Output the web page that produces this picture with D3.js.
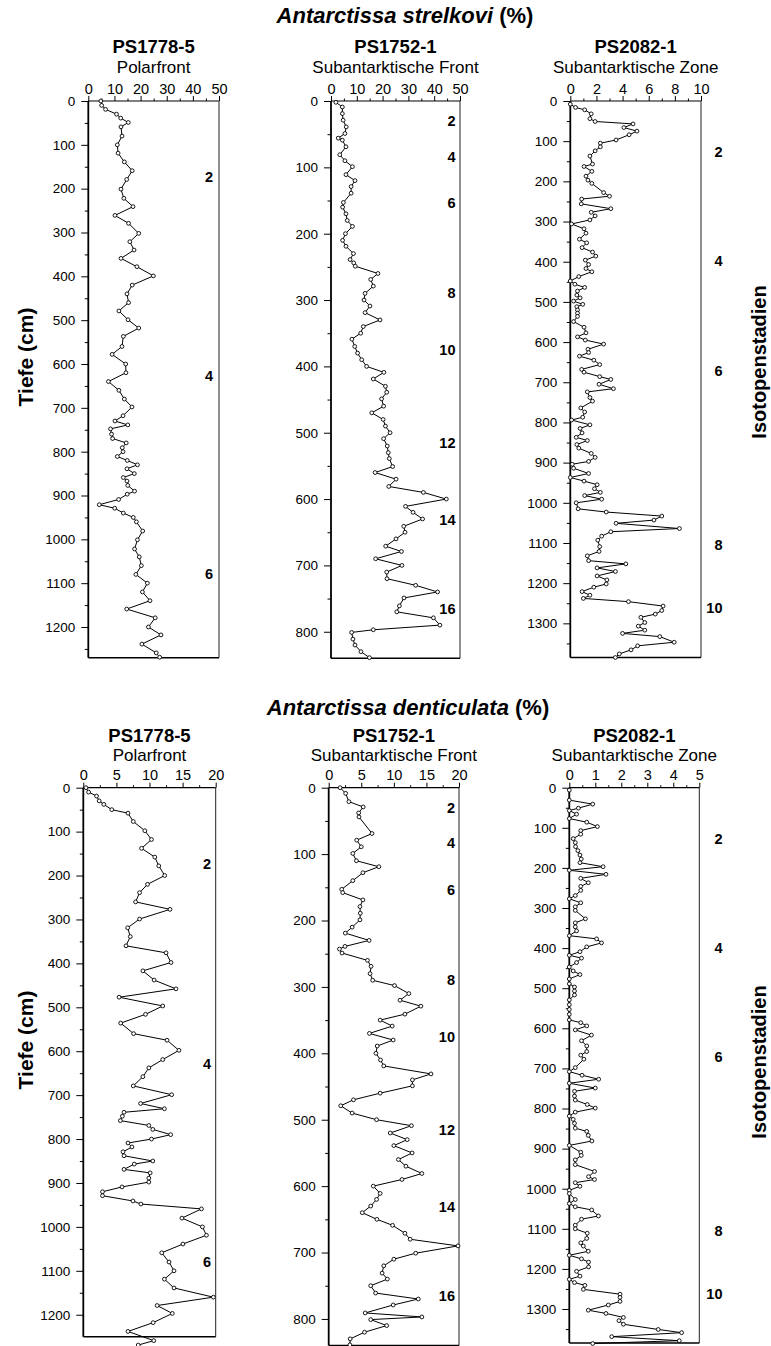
<!DOCTYPE html>
<html>
<head>
<meta charset="utf-8">
<script src="https://cdn.jsdelivr.net/npm/d3@7"></script>
<style>
  body { margin: 0; background: #fff; }
  svg { display: block; }
  text { font-family: "Liberation Sans", Arial, Helvetica, sans-serif; fill: #000; }
</style>
</head>
<body>
<svg id="chart" width="771" height="1346"></svg>
<script>
// ---- Data: [depth in cm, abundance in %] per core ----
const strelkoviPS1778 = [[0,4.8],[10,5.1],[19,6.6],[30,10.8],[39,12.4],[49,15.3],[59,12.5],[80,12.9],[100,11.1],[119,11.4],[139,13.8],[159,16.8],[179,14.7],[201,12.5],[222,13.6],[241,17.1],[261,10.2],[279,15.4],[302,19.3],[321,15.9],[340,17.5],[359,12.5],[378,18.6],[399,24.9],[420,16.8],[440,14.8],[460,15.4],[479,11.7],[499,15.2],[518,19.3],[537,13.4],[560,12.9],[578,9.1],[600,14.3],[620,14.4],[640,7.7],[660,11.7],[680,13.8],[698,16.7],[718,13.3],[730,10.2],[739,15.1],[748,8.5],[760,8.9],[770,9.3],[780,14.5],[791,13.0],[800,13.3],[811,11.1],[820,14.9],[830,18.8],[839,14.8],[850,17.6],[859,13.4],[867,14.8],[877,15.1],[890,17.7],[897,14.9],[909,11.6],[921,4.2],[929,10.1],[940,13.4],[950,17.2],[960,18.4],[981,20.8],[1001,18.8],[1022,17.7],[1040,19.5],[1060,20.3],[1080,18.2],[1100,22.6],[1120,20.7],[1140,23.6],[1159,14.7],[1179,25.6],[1200,23.0],[1218,27.8],[1239,20.5],[1259,26.0],[1269,27.3]];

const strelkoviPS1752 = [[2,1.9],[9,4.4],[19,4.4],[29,4.7],[39,5.9],[49,5.4],[56,2.8],[59,4.4],[69,5.8],[81,3.4],[90,5.4],[99,8.3],[111,5.8],[120,9.3],[129,7.8],[139,7.8],[153,4.8],[160,4.5],[170,5.8],[180,6.3],[189,8.3],[200,5.6],[210,4.5],[219,5.8],[230,8.7],[239,7.4],[244,8.8],[249,9.4],[260,18.2],[269,15.4],[279,16.4],[290,13.2],[300,12.8],[309,15.1],[319,13.2],[330,19.0],[340,12.5],[350,11.5],[359,8.1],[370,9.2],[380,10.3],[390,11.9],[400,13.8],[409,20.5],[419,16.4],[430,21.1],[439,21.6],[449,19.6],[460,20.4],[470,15.8],[480,20.2],[490,21.1],[500,22.9],[509,20.4],[520,21.8],[530,22.2],[539,22.6],[551,23.9],[560,17.1],[570,25.2],[581,22.4],[590,35.8],[600,44.7],[611,28.9],[620,31.8],[630,35.5],[641,28.2],[650,28.7],[660,25.2],[671,21.2],[679,27.3],[690,17.3],[700,27.5],[710,21.6],[720,21.7],[730,32.8],[740,41.3],[749,28.3],[761,26.5],[770,25.5],[779,39.7],[790,42.2],[797,16.4],[801,8.0],[811,8.5],[820,9.3],[830,11.6],[839,14.9]];

const strelkoviPS2082 = [[8,0],[16,0.4],[22,1.1],[32,1.6],[44,1.5],[51,1.9],[57,4.8],[66,4.1],[75,5.1],[84,4.5],[97,3.5],[105,2.3],[114,2.3],[124,1.9],[137,1.5],[157,1.7],[163,1.05],[175,1.65],[187,1.2],[197,1.35],[205,1.65],[228,2.55],[237,3.0],[244,0.87],[256,0.84],[268,3.1],[277,1.6],[286,1.9],[296,1.5],[306,0.1],[318,1.05],[329,1.2],[344,0.7],[353,1.25],[365,0.9],[376,1.7],[386,1.95],[396,1.15],[407,1.4],[417,1.2],[425,1.65],[437,0.65],[448,0],[456,0.35],[464,1.1],[473,0.55],[483,0.5],[490,0.75],[498,0.25],[506,0.95],[512,0.5],[520,0.55],[528,0.55],[536,0.55],[549,0.25],[563,1.05],[577,1.2],[587,0.55],[595,1.15],[605,2.55],[618,1.35],[626,1.4],[635,0.7],[645,1.8],[656,2.25],[668,0.87],[675,1.05],[686,2.25],[693,3.1],[705,2.2],[716,3.3],[724,1.3],[738,1.5],[747,1.7],[764,0.8],[774,1.1],[787,0.95],[794,0.1],[806,1.5],[815,0.75],[826,0.9],[837,0.45],[845,1.3],[855,0.5],[864,0.65],[877,1.6],[887,1.9],[897,1.4],[904,0.15],[914,0.25],[927,1.4],[937,0],[946,1.05],[955,2.05],[965,1.85],[974,2.3],[982,1.1],[991,2.4],[1000,0.45],[1015,0.6],[1023,2.75],[1033,7.0],[1043,6.4],[1051,3.5],[1064,8.35],[1072,3.1],[1083,2.4],[1093,2.1],[1109,2.25],[1121,2.2],[1132,1.3],[1144,1.4],[1152,4.25],[1162,2.05],[1171,3.45],[1182,2.05],[1192,2.8],[1202,2.75],[1210,1.8],[1221,0.9],[1230,1.5],[1238,1.0],[1246,4.45],[1257,7.1],[1268,7.0],[1277,6.5],[1285,5.4],[1298,5.7],[1307,5.2],[1317,5.7],[1325,4.0],[1333,6.85],[1347,7.95],[1356,5.15],[1366,4.65],[1376,3.75],[1385,3.45]];

const denticulataPS1778 = [[0,0.4],[10,0.8],[19,2.0],[30,2.4],[38,3.1],[50,4.3],[58,6.75],[77,7.55],[98,9.3],[118,10.3],[138,8.8],[158,10.8],[178,11.4],[200,12.3],[220,9.7],[239,8.5],[260,7.9],[277,13.1],[299,8.5],[319,6.7],[339,7.1],[360,6.45],[376,12.5],[398,13.25],[417,9.0],[438,10.7],[458,14.0],[477,5.4],[497,12.0],[516,9.4],[536,5.65],[560,7.6],[575,12.65],[598,14.45],[619,12.0],[638,9.9],[658,9.0],[679,7.55],[699,13.35],[719,8.65],[731,12.25],[739,6.15],[748,5.9],[758,5.6],[769,9.9],[778,10.5],[790,13.2],[800,10.3],[809,6.75],[818,7.35],[829,6.0],[838,6.15],[850,10.5],[857,7.7],[869,6.15],[877,10.1],[889,9.9],[898,9.9],[909,5.85],[920,2.9],[929,2.9],[941,7.5],[948,8.7],[959,17.85],[980,14.9],[1000,18.0],[1019,18.6],[1039,15.05],[1059,11.85],[1080,12.95],[1100,13.7],[1119,12.25],[1139,13.7],[1160,19.65],[1179,11.15],[1197,13.45],[1218,10.55],[1238,6.75],[1259,10.65],[1269,8.3]];

const denticulataPS1752 = [[0,1.75],[8.5,2.6],[21,3.1],[29,5.3],[38,4.6],[44,4.65],[69,6.65],[79,4.3],[89,5.0],[99,3.7],[110,4.25],[119,7.7],[128,5.25],[140,3.7],[153,2.0],[158,2.15],[169,5.25],[179,4.8],[189,4.85],[199,4.8],[210,3.6],[219,2.55],[230,6.2],[239,2.5],[243,1.65],[249,2.05],[260,5.95],[269,6.5],[280,6.35],[290,6.75],[298,10.1],[310,12.3],[320,10.95],[329,14.15],[341,11.7],[350,7.9],[359,9.75],[370,6.25],[380,9.9],[389,7.45],[400,7.25],[410,7.95],[419,8.45],[431,15.7],[440,12.85],[449,12.85],[460,7.9],[470,3.8],[479,1.85],[490,3.6],[500,7.35],[509,12.7],[520,9.45],[530,12.05],[539,10.0],[550,12.8],[560,10.7],[570,11.85],[581,14.3],[590,11.25],[600,6.85],[611,7.9],[620,7.35],[630,6.45],[640,5.15],[650,7.4],[659,9.8],[671,11.7],[680,12.5],[690,19.85],[701,13.35],[710,10.0],[720,8.45],[731,8.2],[740,9.0],[750,6.45],[761,7.2],[770,13.75],[779,9.9],[791,5.6],[797,14.3],[801,6.45],[810,8.9],[820,5.5],[830,3.3],[839,3.25]];

const denticulataPS2082 = [[6,0],[31,0],[41,0.9],[51,0.35],[57,0],[66,0.28],[77,0],[86,0.67],[97,1.08],[107,0.44],[116,0.44],[127,0.15],[137,0.23],[147,0.24],[157,0.33],[168,0.41],[178,0.46],[187,0.41],[197,1.3],[206,0],[216,1.41],[226,0.44],[237,0.73],[246,0.44],[256,0.44],[269,0.23],[277,0],[287,0.44],[297,0.23],[306,0.23],[327,0.62],[337,0.23],[347,0.23],[357,0.28],[369,0],[377,1.05],[387,1.24],[397,0.67],[409,0.41],[418,0],[425,0.47],[436,0.28],[447,0],[457,0.15],[466,0.41],[477,0],[489,0],[497,0.2],[507,0.2],[517,0.2],[529,0],[541,0],[553,0],[565,0],[579,0],[586,0.44],[594,0.67],[604,0.23],[617,0.85],[631,0.47],[644,0.67],[658,0.67],[667,0.44],[677,0.56],[698,0.23],[708,0],[717,0.49],[727,1.13],[737,0],[749,1.0],[757,0.2],[769,0.2],[779,0.23],[790,0.69],[799,1.0],[809,0.23],[819,0],[827,0.15],[837,0.2],[849,0.23],[857,0.67],[867,0.73],[881,0.87],[892,0],[909,0.44],[917,0.46],[928,0.23],[940,0.23],[957,0.97],[970,0.74],[977,0.97],[985,0.23],[994,0.41],[1004,0],[1012,0],[1027,0.23],[1037,0],[1045,0.23],[1053,0.86],[1068,1.12],[1076,0.47],[1091,0.23],[1100,0.23],[1111,0.69],[1124,0.67],[1135,0.44],[1143,0.54],[1156,0.73],[1166,0],[1175,0.47],[1183,0.74],[1195,0.74],[1206,0.28],[1218,0.41],[1226,0],[1234,0.2],[1241,0.6],[1251,0.54],[1263,1.95],[1271,1.95],[1281,1.95],[1290,1.5],[1303,0.73],[1311,1.41],[1321,2.08],[1329,1.91],[1338,2.08],[1351,3.42],[1359,4.32],[1369,1.63],[1379,4.23],[1386,0.9]];

// Isotope stage labels: [stage, depth in cm]
const stagesPS1778 = [[2,173],[4,628],[6,1079]];
const stagesPS1752 = [[2,30],[4,84],[6,154],[8,290],[10,376],[12,515],[14,632],[16,765]];
const stagesPS2082 = [[2,127],[4,399],[6,672],[8,1106],[10,1263]];

// Text
const speciesTitles = ["Antarctissa strelkovi", "Antarctissa denticulata"];
const coreNames = ["PS1778-5", "PS1752-1", "PS2082-1"];
const frontNames = ["Polarfront", "Subantarktische Front", "Subantarktische Zone"];
const yAxisTitle = "Tiefe (cm)";
const stageAxisTitle = "Isotopenstadien";

// ---- Layout ----
const rows = [
  { title: speciesTitles[0], titleY: 23, coreY: 53, frontY: 73, top: 101, titleX: 405, yLabelY: 357, stageLabelY: 362,
    panels: [
      { data: strelkoviPS1778, xMax: 50, xStep: 10, yMax: 1270, left: 88.3, right: 219, bottom: 657.7, stages: stagesPS1778, stageX: 213 },
      { data: strelkoviPS1752, xMax: 50, xStep: 10, yMax: 840, left: 331, right: 460, bottom: 658.3, stages: stagesPS1752, stageX: 455.5 },
      { data: strelkoviPS2082, xMax: 10, xStep: 2, yMax: 1385, left: 570.3, right: 701, bottom: 657.5, stages: stagesPS2082, stageX: 722.5 }
    ] },
  { title: speciesTitles[1], titleY: 715, coreY: 742, frontY: 761, top: 787.7, titleX: 408, yLabelY: 1040, stageLabelY: 1062,
    panels: [
      { data: denticulataPS1778, xMax: 20, xStep: 5, yMax: 1250, left: 83.3, right: 215.7, bottom: 1336.7, stages: stagesPS1778, stageX: 211 },
      { data: denticulataPS1752, xMax: 20, xStep: 5, yMax: 840, left: 328.7, right: 459, bottom: 1345.5, stages: stagesPS1752, stageX: 455 },
      { data: denticulataPS2082, xMax: 5, xStep: 1, yMax: 1385, left: 569.3, right: 699.3, bottom: 1343.1, stages: stagesPS2082, stageX: 722.5 }
    ] }
];

const svg = d3.select("#chart");

rows.forEach(row => {
  // Species title
  const t = svg.append("text")
    .attr("x", row.titleX).attr("y", row.titleY)
    .attr("text-anchor", "middle")
    .style("font-size", "22px").style("font-weight", "bold");
  t.append("tspan").style("font-style", "italic").text(row.title);
  t.append("tspan").text(" (%)");

  // Depth axis title
  svg.append("text")
    .attr("transform", `translate(25,${row.yLabelY}) rotate(-90)`)
    .attr("text-anchor", "middle").attr("dominant-baseline", "central")
    .style("font-size", "21px").style("font-weight", "bold")
    .text(yAxisTitle);

  // Stage axis title
  svg.append("text")
    .attr("transform", `translate(759,${row.stageLabelY}) rotate(-90)`)
    .attr("text-anchor", "middle").attr("dominant-baseline", "central")
    .style("font-size", "20px").style("font-weight", "bold")
    .text(stageAxisTitle);

  row.panels.forEach((p, i) => {
    const x = d3.scaleLinear().domain([0, p.xMax]).range([p.left, p.right]);
    const y = d3.scaleLinear().domain([0, p.yMax]).range([row.top, p.bottom]);
    const cx = (p.left + p.right) / 2;
    const g = svg.append("g");

    // Core name and frontal zone
    g.append("text").attr("x", cx).attr("y", row.coreY).attr("text-anchor", "middle")
      .style("font-size", "18.5px").style("font-weight", "bold").text(coreNames[i]);
    g.append("text").attr("x", cx).attr("y", row.frontY).attr("text-anchor", "middle")
      .style("font-size", "17px").text(frontNames[i]);

    // Top abundance axis: major and minor ticks
    const majorX = d3.range(0, p.xMax + 1e-9, p.xStep);
    const minorX = d3.range(p.xStep / 2, p.xMax, p.xStep);
    const xAxisG = g.append("g").attr("transform", `translate(0,${row.top})`)
      .call(d3.axisTop(x).tickValues(majorX).tickSize(5).tickPadding(2.5).tickFormat(d3.format("d")));
    xAxisG.select(".domain").remove();
    xAxisG.selectAll("text").style("font-size", "14.5px").style("font-family", "'Liberation Sans', Arial, sans-serif").attr("fill", "#000");
    xAxisG.selectAll("line").attr("stroke", "#000");
    const xMinorG = g.append("g").attr("transform", `translate(0,${row.top})`)
      .call(d3.axisTop(x).tickValues(minorX).tickSize(2.5).tickFormat(""));
    xMinorG.select(".domain").remove();
    xMinorG.selectAll("line").attr("stroke", "#000");

    // Depth axis: labelled every 100 cm, minor ticks at 50 cm
    const majorY = d3.range(0, p.yMax + 1e-9, 100);
    const minorY = d3.range(50, p.yMax, 100);
    const yAxisG = g.append("g").attr("transform", `translate(${p.left},0)`)
      .call(d3.axisLeft(y).tickValues(majorY).tickSize(7).tickPadding(6).tickFormat(d3.format("d")));
    yAxisG.select(".domain").remove();
    yAxisG.selectAll("text").style("font-size", "13.5px").style("font-family", "'Liberation Sans', Arial, sans-serif").attr("fill", "#000");
    yAxisG.selectAll("line").attr("stroke", "#000");
    const yMinorG = g.append("g").attr("transform", `translate(${p.left},0)`)
      .call(d3.axisLeft(y).tickValues(minorY).tickSize(3.5).tickFormat(""));
    yMinorG.select(".domain").remove();
    yMinorG.selectAll("line").attr("stroke", "#000");

    // Frame
    g.append("line").attr("x1", p.left).attr("x2", p.right).attr("y1", row.top).attr("y2", row.top)
      .attr("stroke", "#000").attr("stroke-width", 1.2);
    g.append("line").attr("x1", p.left).attr("x2", p.left).attr("y1", row.top).attr("y2", p.bottom)
      .attr("stroke", "#000").attr("stroke-width", 1.8);
    g.append("line").attr("x1", p.right).attr("x2", p.right).attr("y1", row.top).attr("y2", p.bottom)
      .attr("stroke", "#222").attr("stroke-width", 1);
    g.append("line").attr("x1", p.left).attr("x2", p.right).attr("y1", p.bottom).attr("y2", p.bottom)
      .attr("stroke", "#000").attr("stroke-width", 1.5);

    // Abundance profile
    const line = d3.line().x(d => x(d[1])).y(d => y(d[0]));
    g.append("path").datum(p.data).attr("d", line)
      .attr("fill", "none").attr("stroke", "#000").attr("stroke-width", 1);
    g.selectAll("circle.pt").data(p.data).join("circle").attr("class", "pt")
      .attr("cx", d => x(d[1])).attr("cy", d => y(d[0])).attr("r", 1.9)
      .attr("fill", "#fff").attr("stroke", "#000").attr("stroke-width", 0.9);

    // Isotope stage numbers
    g.selectAll("text.stage").data(p.stages).join("text").attr("class", "stage")
      .attr("x", p.stageX).attr("y", d => y(d[1]))
      .attr("text-anchor", "end").attr("dominant-baseline", "central")
      .style("font-size", "14.5px").style("font-weight", "bold")
      .text(d => d[0]);
  });
});
</script>
</body>
</html>
